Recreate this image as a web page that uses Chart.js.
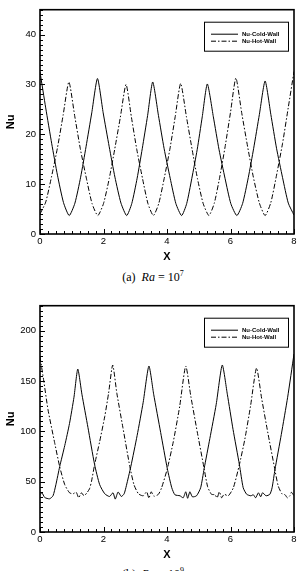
<!DOCTYPE html>
<html>
<head>
<meta charset="utf-8">
<script src="https://cdn.jsdelivr.net/npm/chart.js@4/dist/chart.umd.min.js"></script>
<style>
	html, body { margin: 0; padding: 0; background: #fff; }
	body { position: relative; width: 301px; height: 571px; overflow: hidden; }
	canvas { position: absolute; left: 0; }
	#chartA { top: 0; }
	#chartB { top: 296px; }
	.caption { position: absolute; left: 0; width: 306px; text-align: center; font-family: "Liberation Serif", serif; font-size: 12px; line-height: 14px; color: #000; }
	.caption sup { font-size: 8px; vertical-align: 0; position: relative; top: -5px; }
</style>
</head>
<body>
<canvas id="chartA" width="301" height="268"></canvas>
<div class="caption" style="top: 270px;">(a)&ensp;<i>Ra</i> = 10<sup>7</sup></div>
<canvas id="chartB" width="301" height="270"></canvas>
<div class="caption" style="top: 567px;">(b)&ensp;<i>Ra</i> = 10<sup>9</sup></div>
<script>
const seriesNames = ["Nu-Cold-Wall", "Nu-Hot-Wall"];
const xTicks = [0, 2, 4, 6, 8];

// (a) Ra = 1e7
const aYTicks = [0, 10, 20, 30, 40];
const aColdX = [0, 0.18, 0.37, 0.55, 0.74, 0.92, 1.1, 1.28, 1.45, 1.63, 1.81, 1.99, 2.18, 2.36, 2.55, 2.73, 2.89, 3.06, 3.22, 3.39, 3.55, 3.73, 3.91, 4.1, 4.28, 4.46, 4.62, 4.78, 4.95, 5.11, 5.27, 5.46, 5.64, 5.83, 6.01, 6.2, 6.38, 6.56, 6.73, 6.91, 7.09, 7.27, 7.45, 7.64, 7.82, 8.0];
const aColdY = [32.5, 25.3, 18.1, 11.8, 6.3, 3.7, 6.2, 11.4, 17.5, 24.3, 31.2, 24.3, 17.5, 11.4, 6.2, 3.7, 6.1, 11.2, 17.1, 23.8, 30.5, 23.8, 17.1, 11.2, 6.1, 3.7, 6.1, 11.1, 16.9, 23.5, 30.1, 23.5, 16.9, 11.1, 6.1, 3.7, 6.1, 11.3, 17.2, 24.0, 30.7, 24.0, 17.2, 11.3, 6.2, 3.8];
const aHotX = [0, 0.18, 0.36, 0.55, 0.73, 0.91, 1.09, 1.27, 1.46, 1.64, 1.82, 2.0, 2.18, 2.35, 2.53, 2.71, 2.88, 3.05, 3.23, 3.4, 3.57, 3.74, 3.91, 4.09, 4.26, 4.43, 4.61, 4.79, 4.96, 5.14, 5.32, 5.49, 5.66, 5.83, 6.0, 6.17, 6.35, 6.54, 6.72, 6.91, 7.09, 7.27, 7.45, 7.64, 7.82, 8.0];
const aHotY = [4.0, 6.4, 11.4, 17.3, 23.9, 30.5, 23.8, 17.1, 11.2, 6.1, 3.7, 6.1, 11.1, 16.9, 23.4, 30.0, 23.4, 16.9, 11.1, 6.1, 3.7, 6.1, 11.1, 17.0, 23.6, 30.2, 23.6, 17.0, 11.1, 6.1, 3.7, 6.2, 11.4, 17.5, 24.4, 31.3, 24.4, 17.5, 11.4, 6.2, 3.7, 6.3, 11.8, 18.2, 25.4, 32.6];

// (b) Ra = 1e9
const bYTicks = [0, 50, 100, 150, 200];
const bColdX = [0, 0.06, 0.15, 0.3, 0.41, 0.5, 0.62, 0.78, 0.93, 1.07, 1.19, 1.32, 1.51, 1.72, 1.88, 2.04, 2.19, 2.3, 2.37, 2.46, 2.56, 2.65, 2.72, 2.86, 3.06, 3.25, 3.43, 3.58, 3.8, 4.01, 4.15, 4.25, 4.41, 4.51, 4.59, 4.65, 4.72, 4.8, 4.93, 5.06, 5.17, 5.35, 5.55, 5.74, 5.9, 6.08, 6.28, 6.4, 6.51, 6.64, 6.72, 6.79, 6.88, 6.95, 7.01, 7.12, 7.24, 7.31, 7.4, 7.6, 7.8, 8.0];
const bColdY = [37, 39, 34.3, 33, 36, 47, 65, 86, 108, 134, 162, 137, 104, 67, 47, 38, 35.3, 39, 32.7, 39.8, 35.3, 38, 46, 65, 96, 129, 165, 137, 99, 63, 44, 37, 36, 34, 40, 33.5, 40, 35, 36, 44, 63, 93, 127, 166, 137, 102, 67, 44, 37.5, 36, 37, 34, 39, 35, 39, 36, 37.5, 44, 62, 97, 134, 177];
const bHotX = [0, 0.12, 0.25, 0.46, 0.62, 0.78, 0.93, 1.04, 1.14, 1.22, 1.3, 1.39, 1.49, 1.56, 1.62, 1.72, 1.88, 2.04, 2.16, 2.29, 2.42, 2.61, 2.83, 2.96, 3.1, 3.25, 3.36, 3.43, 3.5, 3.59, 3.73, 3.83, 4.01, 4.2, 4.4, 4.59, 4.75, 4.95, 5.17, 5.28, 5.4, 5.51, 5.58, 5.65, 5.72, 5.8, 5.93, 6.09, 6.28, 6.45, 6.63, 6.82, 6.98, 7.18, 7.38, 7.5, 7.62, 7.72, 7.79, 7.87, 7.92, 8.0];
const bHotY = [174, 150, 122, 89, 65, 47, 39, 38, 39.5, 34, 39, 36, 39.5, 43, 50, 67, 90, 115, 138, 166, 138, 104, 65, 47, 38, 36, 40, 33.5, 40, 35.5, 37.5, 44, 63, 90, 125, 165, 135, 100, 63, 45, 37.5, 37, 34, 40, 34, 37.5, 36, 44, 67, 92, 125, 163, 133, 98, 65, 46, 38, 37, 34, 36, 39.5, 36];

Chart.defaults.font.family = "'Liberation Sans', Arial, sans-serif";
Chart.defaults.color = "#000";

function toPoints(xs, ys) {
	return xs.map((x, i) => ({ x: x, y: ys[i] }));
}

// tecplot style frame: inward ticks, box and a framed legend
const tecFrame = {
	id: "tecFrame",
	afterDatasetsDraw(chart, args, opts) {
		const ctx = chart.ctx;
		const a = chart.chartArea;
		const sx = chart.scales.x;
		const sy = chart.scales.y;
		ctx.save();
		ctx.strokeStyle = "#000";
		ctx.lineWidth = 1;

		const isMajor = (v, step) => Math.abs(v / step - Math.round(v / step)) < 1e-6;
		for (let v = sx.min; v <= sx.max + 1e-9; v += opts.xMinor) {
			const px = Math.round(sx.getPixelForValue(v)) + 0.5;
			const len = isMajor(v, opts.xMajor) ? 5 : 3;
			ctx.beginPath();
			ctx.moveTo(px, a.bottom);
			ctx.lineTo(px, a.bottom - len);
			ctx.stroke();
		}
		for (let v = sy.min; v <= sy.max + 1e-9; v += opts.yMinor) {
			const py = Math.round(sy.getPixelForValue(v)) + 0.5;
			const len = isMajor(v, opts.yMajor) ? 5 : 3;
			ctx.beginPath();
			ctx.moveTo(a.left, py);
			ctx.lineTo(a.left + len, py);
			ctx.stroke();
		}

		ctx.lineWidth = 1.6;
		ctx.strokeRect(a.left, a.top, a.right - a.left, a.bottom - a.top);

		// legend
		const bx = a.right - 90;
		const by = a.top + 12;
		ctx.lineWidth = 1;
		ctx.fillStyle = "#fff";
		ctx.fillRect(bx, by, 84, 29);
		ctx.strokeRect(bx + 0.5, by + 0.5, 84, 29);
		ctx.font = "bold 6px 'Liberation Sans', Arial, sans-serif";
		ctx.fillStyle = "#000";
		ctx.textBaseline = "middle";
		chart.data.datasets.forEach((ds, i) => {
			const ly = by + 12.5 + i * 7;
			ctx.setLineDash(ds.borderDash || []);
			ctx.beginPath();
			ctx.moveTo(bx + 7, ly);
			ctx.lineTo(bx + 34, ly);
			ctx.stroke();
			ctx.setLineDash([]);
			ctx.fillText(ds.label, bx + 38, ly);
		});
		ctx.restore();
	}
};

class _NuChart {
	constructor(context, cold, hot, yMax, yTicks, yMinor) {
		this.context = context;
		this.cold = cold;
		this.hot = hot;
		this.yMax = yMax;
		this.yTicks = yTicks;
		this.yMinor = yMinor;
	}

	Initialize() {
		const yTicks = this.yTicks;
		this.CHART = new Chart(this.context, {
			type: "scatter",
			data: {
				datasets: [
					{
						label: seriesNames[0],
						data: this.cold,
						showLine: true,
						borderColor: "#000",
						borderWidth: 1,
						pointRadius: 0,
						tension: 0.2
					},
					{
						label: seriesNames[1],
						data: this.hot,
						showLine: true,
						borderColor: "#000",
						borderWidth: 1,
						borderDash: [5, 2, 1.5, 2],
						pointRadius: 0,
						tension: 0.2
					}
				]
			},
			options: {
				responsive: false,
				animation: false,
				events: [],
				layout: { padding: { top: 3, right: 7, left: 0, bottom: 0 } },
				plugins: {
					legend: { display: false },
					tooltip: { enabled: false },
					tecFrame: { xMinor: 0.25, xMajor: 2, yMinor: this.yMinor, yMajor: yTicks[1] - yTicks[0] }
				},
				scales: {
					x: {
						type: "linear",
						min: 0,
						max: 8,
						grid: { display: false, drawTicks: false },
						border: { display: false },
						afterBuildTicks: (s) => { s.ticks = xTicks.map((v) => ({ value: v })); },
						afterFit: (s) => { s.height = 34; },
						ticks: { padding: 2, font: { size: 9.5 }, maxRotation: 0 },
						title: { display: true, text: "X", font: { size: 11, weight: "bold" }, padding: { top: 0, bottom: 4 } }
					},
					y: {
						type: "linear",
						min: 0,
						max: this.yMax,
						grid: { display: false, drawTicks: false },
						border: { display: false },
						afterBuildTicks: (s) => { s.ticks = yTicks.map((v) => ({ value: v })); },
						afterFit: (s) => { s.width = 40; },
						ticks: { padding: 4, font: { size: 9.5 } },
						title: { display: true, text: "Nu", font: { size: 11, weight: "bold" }, padding: { top: 4, bottom: 0 } }
					}
				}
			},
			plugins: [tecFrame]
		});
	}
}

const chartA = new _NuChart(document.getElementById("chartA"), toPoints(aColdX, aColdY), toPoints(aHotX, aHotY), 45, aYTicks, 1);
chartA.Initialize();
const chartB = new _NuChart(document.getElementById("chartB"), toPoints(bColdX, bColdY), toPoints(bHotX, bHotY), 225, bYTicks, 5);
chartB.Initialize();
</script>
</body>
</html>
